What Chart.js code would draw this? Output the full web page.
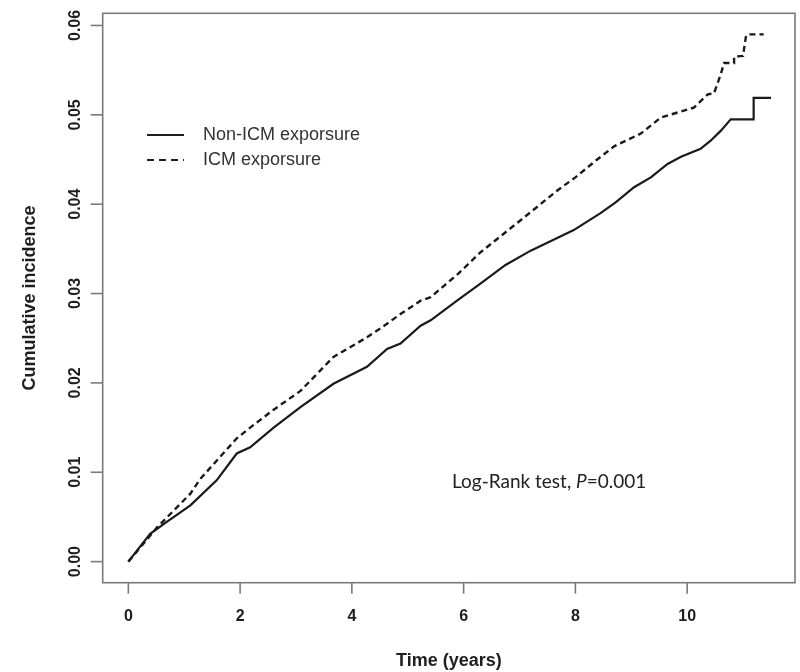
<!DOCTYPE html>
<html>
<head>
<meta charset="utf-8">
<script src="https://cdn.jsdelivr.net/npm/chart.js@4.4.1/dist/chart.umd.min.js"></script>
<style>
  html, body { margin: 0; padding: 0; background: #fff; }
  #wrap { width: 800px; height: 672px; }
</style>
</head>
<body>
<div id="wrap"><canvas id="cifChart" width="800" height="672"></canvas></div>
<script>
// Courbes (temps en années, incidence cumulée)
const seriesNames = ['Non-ICM exporsure', 'ICM exporsure'];

const nonIcmTime = [0, 0.39, 0.7, 1.11, 1.58, 1.94, 2.18, 2.6, 3.08, 3.67, 4.27, 4.63, 4.87, 5.23, 5.41, 5.9, 6.3, 6.75, 7.2, 7.6, 7.97, 8.45, 8.72, 9.05, 9.35, 9.65, 9.89, 10.24, 10.42, 10.6, 10.78, 11.19, 11.19, 11.5];
const nonIcmInc = [0, 0.0031, 0.0045, 0.0063, 0.0091, 0.0121, 0.0128, 0.0150, 0.0173, 0.0199, 0.0218, 0.0238, 0.0244, 0.0264, 0.0270, 0.0293, 0.0311, 0.0332, 0.0348, 0.0360, 0.0371, 0.0390, 0.0402, 0.0419, 0.0430, 0.0445, 0.0453, 0.0462, 0.0471, 0.0482, 0.0495, 0.0495, 0.0519, 0.0519];

const icmTime = [0, 0.51, 1.11, 1.28, 1.94, 2.18, 2.6, 3.08, 3.67, 4.27, 4.51, 4.87, 5.23, 5.41, 5.9, 6.3, 7.02, 7.67, 8.0, 8.39, 8.7, 9.17, 9.53, 10.12, 10.37, 10.48, 10.6, 10.66, 10.84, 10.84, 11.0, 11.05, 11.08, 11.37];
const icmInc = [0, 0.0038, 0.0076, 0.0092, 0.0138, 0.0150, 0.0170, 0.0191, 0.0229, 0.0251, 0.0261, 0.0277, 0.0292, 0.0296, 0.0322, 0.0346, 0.0382, 0.0415, 0.0430, 0.0450, 0.0465, 0.0479, 0.0497, 0.0508, 0.0523, 0.0524, 0.0545, 0.0558, 0.0558, 0.0565, 0.0566, 0.0587, 0.0590, 0.0590];

// Graduations des axes
const xTicks = [0, 2, 4, 6, 8, 10];
const xTickLabels = ['0', '2', '4', '6', '8', '10'];
const yTicks = [0, 0.01, 0.02, 0.03, 0.04, 0.05, 0.06];
const yTickLabels = ['0.00', '0.01', '0.02', '0.03', '0.04', '0.05', '0.06'];

const xTitle = 'Time (years)';
const yTitle = 'Cumulative incidence';
const testText = ['Log-Rank test, ', 'P', '=0.001'];

const toPoints = (xs, ys) => xs.map((x, i) => ({ x: x, y: ys[i] }));

// Axes, légende et texte dessinés à la main, façon graphique R
const rStylePlugin = {
  id: 'rStyle',
  afterDraw(chart) {
    const ctx = chart.ctx;
    const area = chart.chartArea;
    const xs = chart.scales.x;
    const ys = chart.scales.y;
    ctx.save();

    // cadre
    ctx.strokeStyle = '#7a7a7a';
    ctx.lineWidth = 1.6;
    ctx.strokeRect(area.left, area.top, area.right - area.left, area.bottom - area.top);

    // axe x
    ctx.fillStyle = '#1e1e1e';
    ctx.font = 'bold 16px "Liberation Sans", Arial, sans-serif';
    ctx.textAlign = 'center';
    ctx.textBaseline = 'middle';
    xTicks.forEach((v, i) => {
      const px = xs.getPixelForValue(v);
      ctx.beginPath();
      ctx.moveTo(px, area.bottom);
      ctx.lineTo(px, area.bottom + 11);
      ctx.stroke();
      ctx.fillText(xTickLabels[i], px, 617);
    });

    // axe y (étiquettes verticales)
    yTicks.forEach((v, i) => {
      const py = ys.getPixelForValue(v);
      ctx.beginPath();
      ctx.moveTo(area.left, py);
      ctx.lineTo(area.left - 12, py);
      ctx.stroke();
      ctx.save();
      ctx.translate(76, py);
      ctx.rotate(-Math.PI / 2);
      ctx.fillText(yTickLabels[i], 0, 0);
      ctx.restore();
    });

    // titres
    ctx.font = 'bold 18px "Liberation Sans", Arial, sans-serif';
    ctx.fillText(xTitle, (area.left + area.right) / 2, 661);
    ctx.save();
    ctx.translate(30, (area.top + area.bottom) / 2);
    ctx.rotate(-Math.PI / 2);
    ctx.fillText(yTitle, 0, 0);
    ctx.restore();

    // légende
    ctx.strokeStyle = '#1e1e1e';
    ctx.lineWidth = 1.8;
    ctx.beginPath();
    ctx.moveTo(147, 135);
    ctx.lineTo(184, 135);
    ctx.stroke();
    ctx.setLineDash([7, 5]);
    ctx.beginPath();
    ctx.moveTo(147, 160);
    ctx.lineTo(184, 160);
    ctx.stroke();
    ctx.setLineDash([]);
    ctx.fillStyle = '#333';
    ctx.font = '18px "Liberation Sans", Arial, sans-serif';
    ctx.textAlign = 'left';
    ctx.fillText(seriesNames[0], 203, 135);
    ctx.fillText(seriesNames[1], 203, 160);

    // test du log-rank
    ctx.fillStyle = '#222';
    ctx.textBaseline = 'alphabetic';
    let tx = 452;
    const ty = 488;
    ctx.font = '19px Lato, "Open Sans", sans-serif';
    ctx.fillText(testText[0], tx, ty);
    tx += ctx.measureText(testText[0]).width;
    ctx.font = 'italic 19px Lato, "Open Sans", sans-serif';
    ctx.fillText(testText[1], tx, ty);
    tx += ctx.measureText(testText[1]).width;
    ctx.font = '19px Lato, "Open Sans", sans-serif';
    ctx.fillText(testText[2], tx, ty);

    ctx.restore();
  }
};

const data = {
  datasets: [{
    label: seriesNames[0],
    data: toPoints(nonIcmTime, nonIcmInc),
    borderColor: '#1a1a1a',
    borderWidth: 2.2,
    showLine: true,
    pointRadius: 0,
    tension: 0
  }, {
    label: seriesNames[1],
    data: toPoints(icmTime, icmInc),
    borderColor: '#1a1a1a',
    borderWidth: 2.4,
    borderDash: [6, 4],
    showLine: true,
    pointRadius: 0,
    tension: 0
  }]
};

const config = {
  type: 'scatter',
  data: data,
  options: {
    responsive: false,
    animation: false,
    layout: {
      padding: { left: 102.7, right: 5, top: 13.3, bottom: 89.3 }
    },
    plugins: {
      legend: { display: false },
      tooltip: { enabled: false }
    },
    scales: {
      x: { type: 'linear', display: false, min: -0.459, max: 11.93 },
      y: { type: 'linear', display: false, min: -0.00236, max: 0.06136 }
    }
  },
  plugins: [rStylePlugin]
};

const cifChart = new Chart(document.getElementById('cifChart'), config);
</script>
</body>
</html>
